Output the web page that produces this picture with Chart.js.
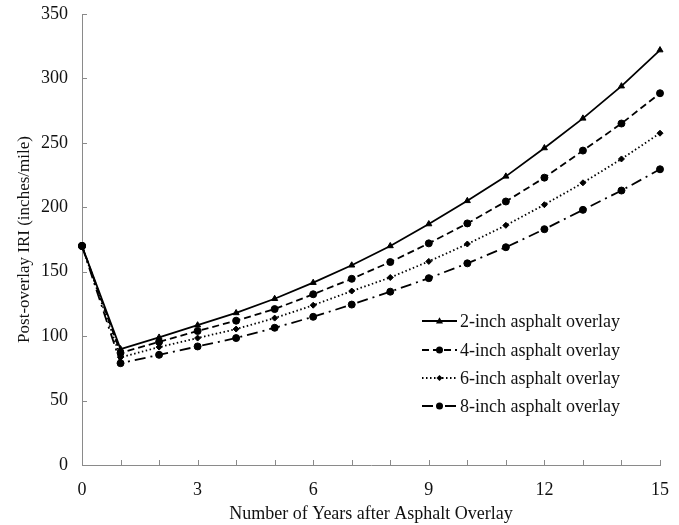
<!DOCTYPE html>
<html>
<head>
<meta charset="utf-8">
<script src="https://cdn.jsdelivr.net/npm/chart.js@4.4.1/dist/chart.umd.min.js"></script>
<style>
  html, body { margin: 0; padding: 0; background: #fff; }
  #wrap { width: 679px; height: 525px; }
</style>
</head>
<body>
<div id="wrap"><canvas id="iriChart" width="679" height="525"></canvas></div>
<script>
// values
const years = [0, 1, 2, 3, 4, 5, 6, 7, 8, 9, 10, 11, 12, 13, 14, 15];
const iri2in = [170, 90, 99, 108.5, 118, 129, 141.5, 155, 170, 187, 205, 224, 246, 269, 294, 322];
const iri4in = [170, 87, 95.5, 104, 112, 121, 132.5, 144.5, 157.5, 172, 187.5, 204.5, 223, 244, 265, 288.5];
const iri6in = [170, 83.5, 91.5, 98.5, 105.5, 114, 124, 135, 145.5, 158, 171.5, 186, 202, 219, 237.5, 257.5];
const iri8in = [170, 79, 85.5, 92, 98.5, 106.5, 115, 124.5, 134.5, 145, 156.5, 169, 183, 198, 213, 229.5];
const seriesNames = ['2-inch asphalt overlay', '4-inch asphalt overlay', '6-inch asphalt overlay', '8-inch asphalt overlay'];
const xLabelYears = [0, 3, 6, 9, 12, 15];

const serif = "'Liberation Serif', 'Times New Roman', serif";
const axisGrey = '#8a8a8a';

const toPoints = (vals) => vals.map((v, i) => ({ x: years[i], y: v }));

const mkSet = (label, vals, dash, style, radius) => ({
    label: label,
    data: toPoints(vals),
    borderColor: '#000',
    backgroundColor: '#000',
    borderWidth: 1.8,
    borderDash: dash,
    pointStyle: style,
    pointRadius: radius,
    pointBackgroundColor: '#000',
    pointBorderColor: '#000',
    pointBorderWidth: 1,
    tension: 0,
    clip: false
});

const datasets = [
    mkSet(seriesNames[0], iri2in, [], 'triangle', 3.5),
    mkSet(seriesNames[1], iri4in, [7, 4], 'circle', 3.5),
    mkSet(seriesNames[2], iri6in, [1.5, 2.5], 'rectRot', 3),
    mkSet(seriesNames[3], iri8in, [11, 5, 2, 5], 'circle', 3.5)
];
// first point (year 0) drawn as a dot for every series
datasets.forEach(ds => {
    ds.pointStyle = years.map((y, i) => i === 0 ? 'circle' : ds.pointStyle);
});

// little marker helper for the legend
function marker(ctx, style, r, x, y) {
    ctx.beginPath();
    if (style === 'triangle') {
        ctx.moveTo(x, y - r * 1.1);
        ctx.lineTo(x + r, y + r * 0.7);
        ctx.lineTo(x - r, y + r * 0.7);
        ctx.closePath();
    } else if (style === 'rectRot') {
        ctx.moveTo(x, y - r);
        ctx.lineTo(x + r, y);
        ctx.lineTo(x, y + r);
        ctx.lineTo(x - r, y);
        ctx.closePath();
    } else {
        ctx.arc(x, y, r, 0, Math.PI * 2);
    }
    ctx.fill();
}

// inward ticks + legend box inside the plot
const decorations = {
    id: 'decorations',
    afterDraw(chart) {
        const ctx = chart.ctx;
        const xs = chart.scales.x, ys = chart.scales.y;
        const area = chart.chartArea;
        ctx.save();
        ctx.strokeStyle = axisGrey;
        ctx.lineWidth = 1;
        ctx.setLineDash([]);
        xs.ticks.forEach(t => {
            const px = Math.round(xs.getPixelForValue(t.value)) + 0.5;
            ctx.beginPath();
            ctx.moveTo(px, area.bottom);
            ctx.lineTo(px, area.bottom - 5);
            ctx.stroke();
        });
        ys.ticks.forEach(t => {
            const py = Math.round(ys.getPixelForValue(t.value)) + 0.5;
            ctx.beginPath();
            ctx.moveTo(area.left, py);
            ctx.lineTo(area.left + 5, py);
            ctx.stroke();
        });

        // legend
        const x0 = area.right - 238;
        const rowY = [321, 350, 378, 406];
        ctx.font = '18px ' + serif;
        ctx.textBaseline = 'middle';
        ctx.textAlign = 'left';
        chart.data.datasets.forEach((ds, i) => {
            const y = rowY[i];
            ctx.strokeStyle = '#000';
            ctx.fillStyle = '#000';
            ctx.lineWidth = ds.borderWidth;
            ctx.setLineDash(ds.borderDash);
            ctx.beginPath();
            ctx.moveTo(x0, y);
            ctx.lineTo(x0 + 35, y);
            ctx.stroke();
            ctx.setLineDash([]);
            const st = Array.isArray(ds.pointStyle) ? ds.pointStyle[1] : ds.pointStyle;
            marker(ctx, st, ds.pointRadius, x0 + 17.5, y);
            ctx.fillStyle = '#111';
            ctx.fillText(ds.label, x0 + 38, y + 1);
        });
        ctx.restore();
    }
};

new Chart(document.getElementById('iriChart'), {
    type: 'line',
    data: { datasets: datasets },
    options: {
        responsive: false,
        animation: false,
        devicePixelRatio: 1,
        layout: { padding: { left: 0, right: 19, top: 14, bottom: 0 } },
        plugins: {
            legend: { display: false },
            tooltip: { enabled: false }
        },
        scales: {
            x: {
                type: 'linear',
                min: 0,
                max: 15,
                grid: { display: false },
                border: { display: true, color: axisGrey, width: 1 },
                ticks: {
                    stepSize: 1,
                    autoSkip: false,
                    maxRotation: 0,
                    padding: 6,
                    color: '#111',
                    font: { family: serif, size: 18 },
                    callback: (v) => xLabelYears.includes(v) ? String(v) : ''
                },
                title: {
                    display: true,
                    text: 'Number of Years after Asphalt Overlay',
                    color: '#111',
                    font: { family: serif, size: 18 },
                    padding: { top: 0, bottom: 0 }
                },
                afterFit: (s) => { s.height = 60; }
            },
            y: {
                min: 0,
                max: 350,
                grid: { display: false },
                border: { display: true, color: axisGrey, width: 1 },
                ticks: {
                    stepSize: 50,
                    padding: 6,
                    color: '#111',
                    font: { family: serif, size: 18 }
                },
                title: {
                    display: true,
                    text: 'Post-overlay IRI (inches/mile)',
                    color: '#111',
                    font: { family: serif, size: 17 },
                    padding: { top: 14, bottom: 0 }
                },
                afterFit: (s) => { s.width = 82; s.paddingTop = 0; s.paddingBottom = 0; }
            }
        }
    },
    plugins: [decorations]
});
</script>
</body>
</html>
